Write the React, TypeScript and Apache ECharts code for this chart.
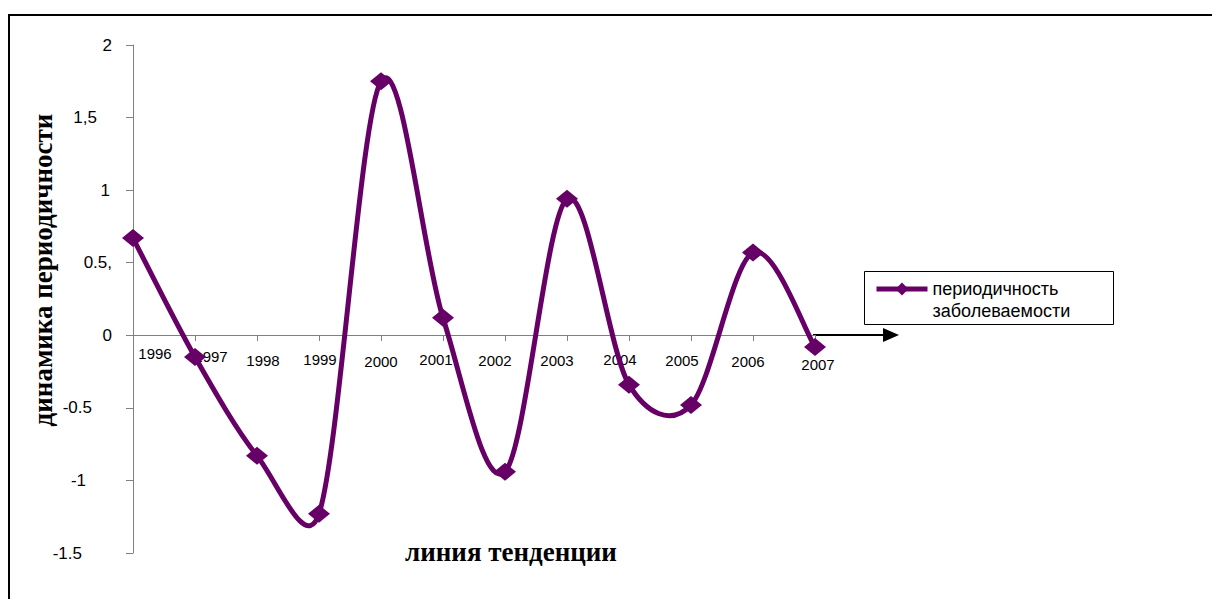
import React, { useEffect, useRef } from "react";
import * as echarts from "echarts";

// Years along the horizontal axis
const years = ["1996", "1997", "1998", "1999", "2000", "2001", "2002", "2003", "2004", "2005", "2006", "2007"];
// Periodicity of morbidity for each year
const periodicity = [0.67, -0.15, -0.83, -1.23, 1.75, 0.12, -0.94, 0.94, -0.34, -0.48, 0.57, -0.08];
// Vertical axis tick values and their printed labels
const yTickValues = [-1.5, -1, -0.5, 0, 0.5, 1, 1.5, 2];
const yTickLabels = ["-1.5", "-1", "-0.5", "0", "0.5,", "1", "1,5", "2"];

const seriesName = "периодичность\nзаболеваемости";
const yTitle = "динамика периодичности";
const xTitle = "линия тенденции";

// Hand-placed label nudges (pixels) for the year labels: [dx, dy]
const yearNudge: [number, number][] = [
  [22, 0], [16, 3], [6, 7], [1, 6], [0, 8], [-7, 6],
  [-10, 7], [-10, 7], [-9, 6], [-9, 7], [-5, 8], [3, 11],
];
// Extra right-side spacing of the value labels
const valueNudge = [30, 26, 20, 0, 0, 2, 15, 0];

const PURPLE = "#660066";
const AXIS_GREY = "#808080";
const SANS = "'Liberation Sans', Arial, sans-serif";
const SERIF = "'Liberation Serif', 'Times New Roman', serif";
const LINE_W = 5;

// Spreadsheet-style smoothed segment between points i and i+1: a cubic Bezier
// whose handles follow the neighbouring points, capped at half the segment length.
function smoothSegment(params: any, api: any) {
  const i = params.dataIndexInside;
  const n = params.dataInsideLength;
  if (i >= n - 1) return null;
  const pt = (k: number) => {
    const j = Math.max(0, Math.min(n - 1, k));
    return api.coord([api.value(0, j), api.value(1, j)]) as number[];
  };
  const p0 = pt(i - 1);
  const p1 = pt(i);
  const p2 = pt(i + 1);
  const p3 = pt(i + 2);
  const dist = (a: number[], b: number[]) => Math.hypot(a[0] - b[0], a[1] - b[1]);
  const d02 = dist(p0, p2);
  const d12 = dist(p1, p2);
  const d13 = dist(p1, p3);
  let f1 = 1 / 6;
  let f2 = 1 / 6;
  if (d02 / 6 >= d12 / 2 && d02 > 0) f1 = d12 / 2 / d02;
  if (d13 / 6 >= d12 / 2 && d13 > 0) f2 = d12 / 2 / d13;
  return {
    type: "bezierCurve",
    shape: {
      x1: p1[0],
      y1: p1[1],
      cpx1: p1[0] + (p2[0] - p0[0]) * f1,
      cpy1: p1[1] + (p2[1] - p0[1]) * f1,
      cpx2: p2[0] - (p3[0] - p1[0]) * f2,
      cpy2: p2[1] - (p3[1] - p1[1]) * f2,
      x2: p2[0],
      y2: p2[1],
    },
    style: { stroke: PURPLE, lineWidth: LINE_W, fill: "none", lineCap: "round", lineJoin: "round" },
  };
}

export default function App() {
  const ref = useRef<HTMLDivElement>(null);

  useEffect(() => {
    if (!ref.current) return;
    const chart = echarts.init(ref.current, null, { renderer: "svg" });

    const xRich: Record<string, any> = {};
    yearNudge.forEach(([dx, dy], i) => {
      xRich["y" + i] = {
        fontFamily: SANS,
        fontSize: 15,
        color: "#000",
        padding: [dy, dx < 0 ? -2 * dx : 0, 0, dx > 0 ? 2 * dx : 0],
      };
    });
    const yRich: Record<string, any> = {};
    valueNudge.forEach((p, i) => {
      yRich["v" + i] = {
        fontFamily: SANS,
        fontSize: 17,
        color: "#000",
        padding: [0, p, 0, 0],
      };
    });

    const points = years.map((y, i) => [y, periodicity[i]]);

    chart.setOption({
      animation: false,
      backgroundColor: "#fff",
      grid: { left: 133, right: 397, top: 45, bottom: 46 },
      xAxis: {
        type: "category",
        data: years,
        boundaryGap: false,
        position: "bottom",
        offset: -218,
        axisLine: { onZero: false, lineStyle: { color: AXIS_GREY, width: 1 } },
        axisTick: { show: true, length: 6, lineStyle: { color: AXIS_GREY } },
        axisLabel: {
          interval: 0,
          margin: 11,
          formatter: (v: string, i: number) => `{y${i}|${v}}`,
          rich: xRich,
        },
        splitLine: { show: false },
      },
      yAxis: {
        type: "value",
        min: -1.5,
        max: 2,
        interval: 0.5,
        axisLine: { show: true, lineStyle: { color: AXIS_GREY, width: 1 } },
        axisTick: { show: true, length: 7, lineStyle: { color: AXIS_GREY } },
        axisLabel: {
          margin: 21,
          formatter: (v: number) => {
            const i = yTickValues.findIndex((t) => Math.abs(t - v) < 1e-9);
            return i < 0 ? "" : `{v${i}|${yTickLabels[i]}}`;
          },
          rich: yRich,
        },
        splitLine: { show: false },
      },
      legend: {
        show: true,
        left: 874,
        top: 256,
        padding: 0,
        itemWidth: 51,
        itemHeight: 16,
        lineStyle: { color: PURPLE, width: LINE_W, opacity: 1 },
        // leading blank line keeps the first text line level with the key
        formatter: (name: string) => "\n" + name,
        textStyle: {
          fontFamily: SANS,
          fontSize: 18,
          color: "#000",
          lineHeight: 22,
        },
        data: [seriesName],
      },
      series: [
        {
          name: "curve",
          type: "custom",
          data: points,
          renderItem: smoothSegment,
          encode: { x: 0, y: 1 },
          z: 2,
          silent: true,
        },
        {
          name: seriesName,
          type: "line",
          data: periodicity,
          symbol: "diamond",
          symbolSize: [22, 18],
          itemStyle: { color: PURPLE },
          lineStyle: { color: PURPLE, width: LINE_W, opacity: 0 },
          z: 3,
        },
      ],
      graphic: [
        // frame around the chart area
        {
          type: "polyline",
          shape: { points: [[9, 599], [9, 15], [1212, 15]] },
          style: { stroke: "#000", lineWidth: 2, fill: "none" },
        },
        // legend box
        {
          type: "rect",
          shape: { x: 864.5, y: 271.5, width: 249, height: 53 },
          style: { stroke: "#000", lineWidth: 1, fill: "none" },
          z: 10,
        },
        // arrow extending the time axis
        {
          type: "line",
          shape: { x1: 813, y1: 335, x2: 886, y2: 335 },
          style: { stroke: "#000", lineWidth: 2 },
        },
        {
          type: "polygon",
          shape: { points: [[883, 328], [899, 335], [883, 342]] },
          style: { fill: "#000" },
        },
        // axis titles
        {
          type: "text",
          x: 43,
          y: 270,
          rotation: Math.PI / 2,
          style: {
            text: yTitle,
            fontFamily: SERIF,
            fontWeight: "bold",
            fontSize: 27,
            fill: "#000",
            align: "center",
            verticalAlign: "middle",
          },
        },
        {
          type: "text",
          x: 511,
          y: 552,
          style: {
            text: xTitle,
            fontFamily: SERIF,
            fontWeight: "bold",
            fontSize: 27,
            fill: "#000",
            align: "center",
            verticalAlign: "middle",
          },
        },
      ],
    });

    return () => chart.dispose();
  }, []);

  return (
    <div
      ref={ref}
      style={{ position: "fixed", left: 0, top: 0, width: 1212, height: 599 }}
    />
  );
}
